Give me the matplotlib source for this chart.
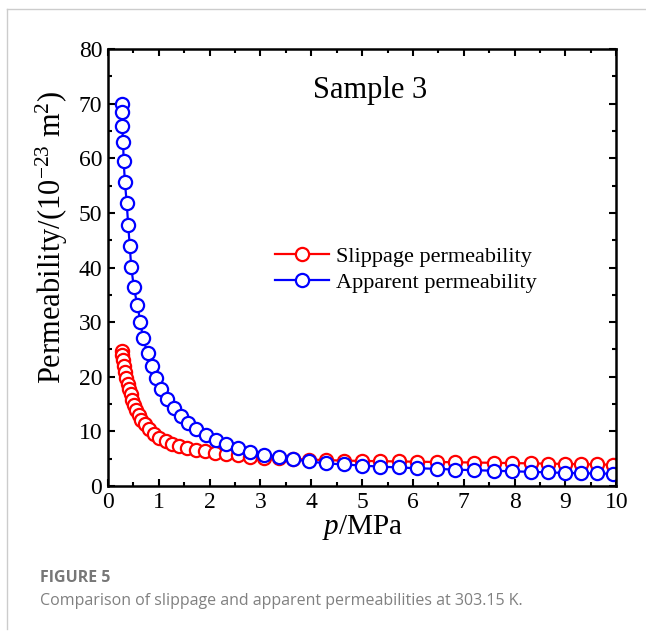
import matplotlib
matplotlib.use("Agg")
import matplotlib.pyplot as plt
from matplotlib.lines import Line2D
from matplotlib.ticker import MultipleLocator

plt.rcParams["mathtext.fontset"] = "custom"
plt.rcParams["mathtext.rm"] = "Liberation Serif"
plt.rcParams["mathtext.it"] = "Liberation Serif:italic"
plt.rcParams["mathtext.default"] = "rm"

# pressure (MPa) and permeability (1e-23 m^2)
p_slip = [0.27, 0.28, 0.30, 0.32, 0.335, 0.36, 0.39, 0.41, 0.45, 0.48, 0.52, 0.56,
          0.61, 0.66, 0.73, 0.81, 0.90, 1.01, 1.14, 1.26, 1.40, 1.56, 1.74, 1.91,
          2.11, 2.33, 2.55, 2.80, 3.08, 3.36, 3.65, 3.96, 4.29, 4.64, 4.99, 5.36,
          5.73, 6.09, 6.47, 6.83, 7.21, 7.59, 7.95, 8.32, 8.66, 8.99, 9.30, 9.63, 9.93]
k_slip = [24.8, 23.9, 23.0, 22.0, 20.9, 19.85, 18.75, 17.8, 16.8, 15.8, 14.8, 13.9,
          13.0, 12.05, 11.3, 10.4, 9.6, 8.8, 8.2, 7.7, 7.3, 6.9, 6.6, 6.4,
          6.1, 5.8, 5.6, 5.4, 5.15, 5.05, 4.95, 4.85, 4.75, 4.65, 4.6, 4.55,
          4.5, 4.45, 4.4, 4.35, 4.3, 4.25, 4.2, 4.15, 4.1, 4.05, 4.0, 3.95, 3.9]

p_app = [0.27, 0.27, 0.28, 0.30, 0.31, 0.335, 0.37, 0.40, 0.43, 0.46, 0.51, 0.58,
         0.64, 0.69, 0.78, 0.86, 0.95, 1.05, 1.16, 1.30, 1.43, 1.58, 1.74, 1.93,
         2.12, 2.33, 2.56, 2.79, 3.07, 3.36, 3.65, 3.96, 4.29, 4.64, 4.99, 5.36,
         5.73, 6.09, 6.47, 6.83, 7.21, 7.59, 7.95, 8.32, 8.66, 8.99, 9.30, 9.63, 9.93]
k_app = [70.0, 68.4, 66.0, 62.9, 59.5, 55.7, 51.8, 47.8, 43.9, 40.1, 36.4, 33.1,
         30.0, 27.1, 24.3, 21.9, 19.7, 17.7, 15.9, 14.3, 12.9, 11.6, 10.4, 9.4,
         8.4, 7.7, 6.9, 6.3, 5.7, 5.4, 4.9, 4.5, 4.15, 3.95, 3.75, 3.55,
         3.4, 3.25, 3.15, 3.0, 2.9, 2.8, 2.7, 2.6, 2.5, 2.4, 2.35, 2.3, 2.25]

series_labels = ["Slippage permeability", "Apparent permeability"]
title_text = "Sample 3"

serif = ["Liberation Serif", "DejaVu Serif"]
caption_font = ["Open Sans", "DejaVu Sans"]
RED, BLUE = "#ff0000", "#0000ff"

fig = plt.figure(figsize=(6.46, 6.37), dpi=100)
ax = fig.add_axes([0.167, 0.237, 0.787, 0.686])

style = dict(marker="o", markersize=9.5, markerfacecolor="white",
             markeredgewidth=1.6, linewidth=1.6)
ax.plot(p_slip, k_slip, color=RED, label=series_labels[0], **style)
ax.plot(p_app, k_app, color=BLUE, label=series_labels[1], **style)

ax.set_xlim(0, 10)
ax.set_ylim(0, 80)
ax.xaxis.set_major_locator(MultipleLocator(1))
ax.xaxis.set_minor_locator(MultipleLocator(0.5))
ax.yaxis.set_major_locator(MultipleLocator(10))
ax.yaxis.set_minor_locator(MultipleLocator(5))
ax.tick_params(which="both", direction="in", top=True, right=True, width=1.5)
ax.tick_params(which="major", length=5, labelsize=17, pad=4)
ax.tick_params(which="minor", length=3)
for lab in ax.get_xticklabels() + ax.get_yticklabels():
    lab.set_family(serif)
for s in ax.spines.values():
    s.set_linewidth(1.8)

ax.set_xlabel(r"$\mathit{p}$/MPa", fontsize=21, family=serif, labelpad=0)
ax.set_ylabel(r"Permeability/(10$^{-23}$ m$^{2}$)", fontsize=22, family=serif)
ax.yaxis.set_label_coords(-0.075, 0.57)

ax.text(0.515, 0.905, title_text, transform=ax.transAxes, fontsize=22,
        family=serif, ha="center", va="center")

handles = [Line2D([], [], color=c, **style) for c in (RED, BLUE)]
ax.legend(handles, series_labels, loc="upper left", bbox_to_anchor=(0.29, 0.595),
          frameon=False, prop={"family": serif, "size": 16}, handlelength=2.4,
          handletextpad=0.35, labelspacing=0.25)

# page frame and caption
fig.add_artist(Line2D([0.011, 0.011], [0.012, 0.986], color="#cccccc", linewidth=1))
fig.add_artist(Line2D([0.011, 1.0], [0.986, 0.986], color="#cccccc", linewidth=1))
fig.text(0.062, 0.093, "FIGURE 5", fontsize=11.5, fontweight="bold",
         color="#777777", family=caption_font, va="center")
fig.text(0.062, 0.057, "Comparison of slippage and apparent permeabilities at 303.15 K.",
         fontsize=11.5, color="#808080", family=caption_font, va="center")

fig.savefig("out.png", dpi=100)
